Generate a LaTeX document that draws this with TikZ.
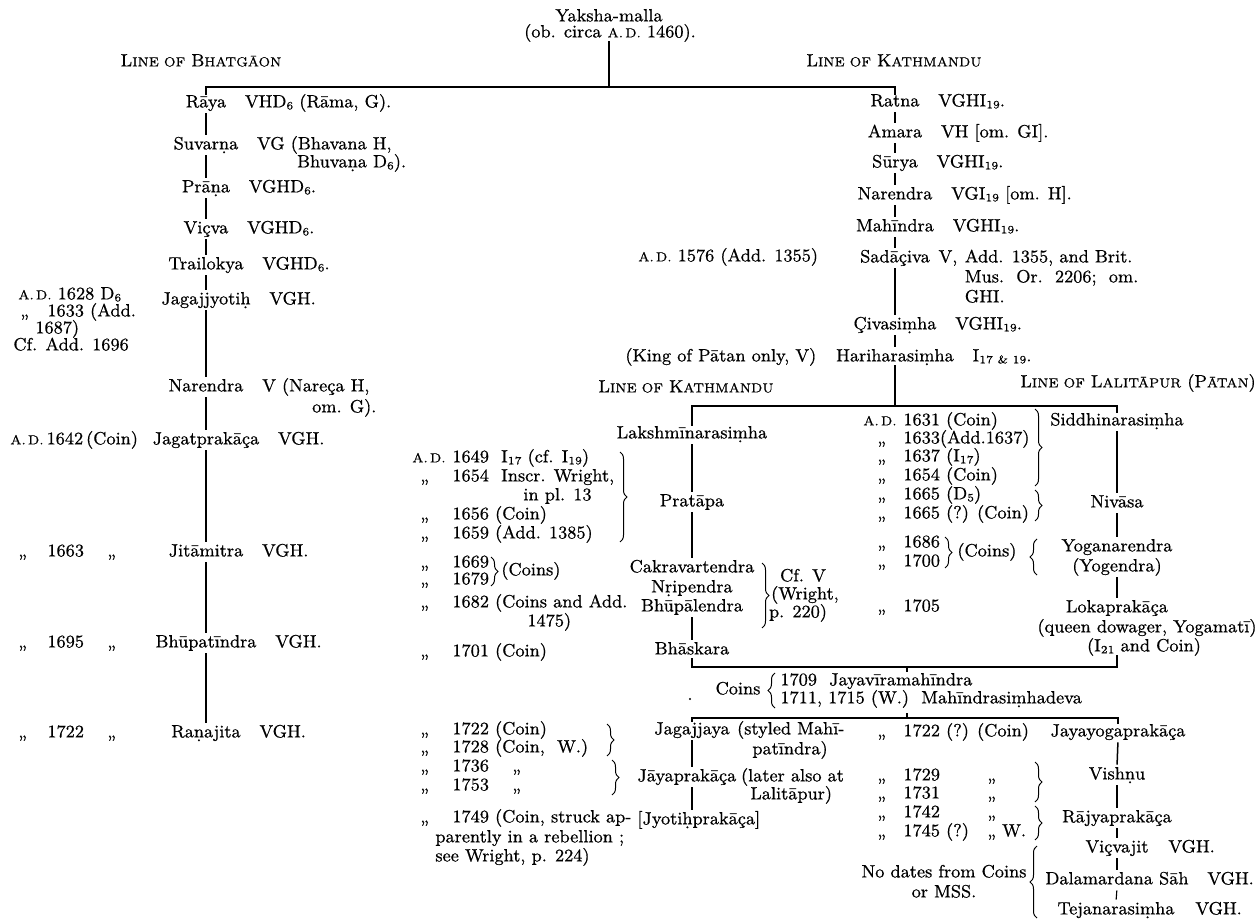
\documentclass[tikz,border=0pt]{standalone}
\usepackage{fontspec}
\setmainfont{Latin Modern Roman}[UprightFeatures={FakeBold=0.6}]
\usetikzlibrary{decorations.pathreplacing,calc}
\newcommand\db[1]{\oalign{#1\crcr\hidewidth.\hidewidth}}
\newcommand\smc[1]{{\fontsize{6.6}{7}\selectfont #1}}
\newcommand\lsub[1]{\raisebox{-0.25ex}{\fontsize{5.6}{6}\selectfont #1}}
\newcommand\dto{,,}
\begin{document}
\begin{tikzpicture}[x=0.5pt,y=-0.5pt,font=\fontsize{8.9}{9.5}\selectfont,
  txt/.style={inner sep=0pt,text height=6.2pt,text depth=1.8pt},
  nm/.style={txt},
  ann/.style={txt,anchor=west},
  ln/.style={line width=0.55pt},
  lnb/.style={line width=0.75pt},
  seg/.style={ln,shorten <=1pt,shorten >=1pt},
  segb/.style={lnb,shorten <=1pt,shorten >=1pt},
  rb/.style={decorate,decoration={brace,amplitude=3.5pt},line width=0.5pt}]
\useasboundingbox (0,0) rectangle (1260,920);
\fill[white] (0,0) rectangle (1260,920);

% ---------- top ----------
\node[nm] (yak) at (609,17) {Yaksha-malla};
\node[nm] (ob) at (610,33) {(ob. circa \smc{A.\,D.} 1460).};
\node[nm] (lb) at (201,62) {L\smc{INE OF} B\smc{HATGĀON}};
\node[nm] (lk) at (894,62) {L\smc{INE OF} K\smc{ATHMANDU}};
\coordinate (hY) at (609,87);

% ---------- line of Bhatgaon ----------
\node[nm] (raya) at (206,103) {Rāya};
\node[ann] at ([xshift=9pt]raya.east) {VHD\lsub{6} (Rāma, G).};
\node[nm] (suv) at (206,145) {Suvar\db{n}a};
\node[ann] (suvA) at ([xshift=9pt]suv.east) {VG (Bhavana H,};
\node[ann] at ([xshift=20pt]suvA.west |- 0,163) {Bhuva\db{n}a D\lsub{6}).};
\node[nm] (prana) at (206,188) {Prā\db{n}a};
\node[ann] at ([xshift=9pt]prana.east) {VGHD\lsub{6}.};
\node[nm] (vicva) at (206,229) {Viçva};
\node[ann] at ([xshift=9pt]vicva.east) {VGHD\lsub{6}.};
\node[nm] (trai) at (206,265) {Trailokya};
\node[ann] at ([xshift=9pt]trai.east) {VGHD\lsub{6}.};
\node[nm] (jagaj) at (206,300) {Jagajjyoti\db{h}};
\node[ann] at ([xshift=9pt]jagaj.east) {VGH.};
\node[nm] (nar) at (206,387) {Narendra};
\node[ann] (narA) at ([xshift=9pt]nar.east) {V (Nareça H,};
\node[ann] at ([xshift=25pt]narA.west |- 0,408) {om. G).};
\node[nm] (jagat) at (206,440) {Jagatprakāça};
\node[ann] at ([xshift=9pt]jagat.east) {VGH.};
\node[nm] (jita) at (206,552) {Jitāmitra};
\node[ann] at ([xshift=9pt]jita.east) {VGH.};
\node[nm] (bhupa) at (206,643) {Bhūpatīndra};
\node[ann] at ([xshift=9pt]bhupa.east) {VGH.};
\node[nm] (rana) at (206,733) {Ra\db{n}ajita};
\node[ann] at ([xshift=9pt]rana.east) {VGH.};

\draw[ln] (ob.south -| hY) -- (hY);
\draw[lnb] (raya.north) |- (hY);
\draw[ln] (hY) -| (895,95);
\foreach \a/\b in {raya/suv,suv/prana,prana/vicva,vicva/trai,trai/jagaj,jagaj/nar,nar/jagat,jagat/jita,jita/bhupa,bhupa/rana}
  \draw[segb] (\a.south) -- (\b.north);

% far-left dates
\node[ann] at (18,295) {\smc{A.\,D.} 1628 D\lsub{6}};
\node[ann] at (20,312) {\dto};
\node[ann] at (47,312) {1633 (Add.};
\node[ann] at (35,329) {1687)};
\node[ann] at (13,346) {Cf. Add. 1696};
\node[ann] at (10,440) {\smc{A.\,D.}\,1642\,(Coin)};
\foreach \y/\d in {552/1663,643/1695,733/1722}{
  \node[ann] at (18,\y) {\dto};
  \node[ann] at (47,\y) {\d};
  \node[ann] at (107,\y) {\dto};
}

% ---------- line of Kathmandu (upper) ----------
\node[nm] (ratna) at (895,102) {Ratna};
\node[ann] at ([xshift=9pt]ratna.east) {VGHI\lsub{19}.};
\node[nm] (amara) at (895,133) {Amara};
\node[ann] at ([xshift=9pt]amara.east) {VH [om. GI].};
\node[nm] (surya) at (895,163) {Sūrya};
\node[ann] at ([xshift=9pt]surya.east) {VGHI\lsub{19}.};
\node[nm] (narK) at (895,195) {Narendra};
\node[ann] at ([xshift=9pt]narK.east) {VGI\lsub{19} [om. H].};
\node[nm] (mahi) at (895,227) {Mahīndra};
\node[ann] at ([xshift=9pt]mahi.east) {VGHI\lsub{19}.};
\node[nm] (sada) at (895,258) {Sadāçiva};
\node[ann] (sadaV) at ([xshift=4pt]sada.east) {V,};
\node[ann] (sadaA) at ([xshift=3.3pt]sadaV.east) {Add. 1355, and Brit.};
\node[ann] at (sadaA.west |- 0,278) {Mus.\ \ Or.\ \ 2206;\ \ om.};
\node[ann] at (sadaA.west |- 0,298) {GHI.};
\node[nm] (civa) at (895,325) {Çivasi\db{m}ha};
\node[ann] at ([xshift=9pt]civa.east) {VGHI\lsub{19}.};
\node[nm] (hari) at (895,357) {Hariharasi\db{m}ha};
\node[ann] at ([xshift=9pt]hari.east) {I\lsub{17 \& 19}.};
\node[ann] at (638,257) {\smc{A.\,D.} 1576 (Add. 1355)};
\node[ann] at (625,357) {(King of Pātan only, V)};
\foreach \a/\b in {ratna/amara,amara/surya,surya/narK,narK/mahi,mahi/sada,sada/civa,civa/hari}
  \draw[seg] (\a.south) -- (\b.north);

% ---------- lower Kathmandu and Lalitapur ----------
\node[nm] (lk2) at (686,388) {L\smc{INE OF} K\smc{ATHMANDU}};
\node[ann] (ll) at (1020,383) {L\smc{INE OF} L\smc{ALITĀPUR} (P\smc{ĀTAN})};
\coordinate (hH) at (895,406);
\draw[ln] (hari.south) -- (hH);

\node[nm] (laksh) at (692,434) {Lakshmīnarasi\db{m}ha};
\node[nm] (prat) at (692,502) {Pratāpa};
\node[nm] (cakra) at (692,568) {Cakravartendra};
\node[nm] (nrip) at (692,588) {N\db{r}ipendra};
\node[nm] (bhupal) at (692,607) {Bhūpālendra};
\node[nm] (bhask) at (692,650) {Bhāskara};
\draw[rb] (762,563) -- (762,628);
\node[nm] at (803,577) {Cf. V};
\node[nm] at (805,595) {(Wright,};
\node[nm] at (798,613) {p. 220)};

\node[nm] (siddhi) at (1117,421) {Siddhinarasi\db{m}ha};
\node[nm] (niv) at (1117,503) {Nivāsa};
\node[nm] (yoga) at (1117,547) {Yoganarendra};
\node[nm] (yoge) at (1117,567) {(Yogendra)};
\node[nm] (loka) at (1117,608) {Lokaprakāça};
\node[nm] (queen) at (1147,628) {(queen dowager, Yogamatī)};
\node[nm] (ic) at (1144,647) {(I\lsub{21} and Coin)};

\draw[lnb] (laksh.north) |- (hH) -| (siddhi.north);
\foreach \a/\b in {laksh/prat,prat/cakra,bhupal/bhask,siddhi/niv,niv/yoga,yoge/loka}
  \draw[segb] (\a.south) -- (\b.north);

% dates of the lower Kathmandu line
\node[ann] at (412,458) {\smc{A.\,D.}};
\node[ann] at (452,458) {1649\ \ I\lsub{17} (cf. I\lsub{19})};
\foreach \y in {477,515,534,563,580,603,652,730,748,767,786,818}
  \node[ann] at (420,\y) {\dto};
\node[ann] at (452,477) {1654\ \ Inscr. Wright,};
\node[ann] at (523,496) {in pl. 13};
\node[ann] at (452,515) {1656 (Coin)};
\node[ann] at (452,534) {1659 (Add. 1385)};
\draw[rb] (620,452) -- (620,542);
\node[ann] at (452,563) {1669};
\node[ann] at (452,580) {1679};
\draw[rb] (491,557) -- (491,586);
\node[ann] at (501,571) {(Coins)};
\node[ann] at (452,603) {1682 (Coins and Add.};
\node[ann] at (527,622) {1475)};
\node[ann] at (452,652) {1701 (Coin)};
\node[ann] at (452,730) {1722 (Coin)};
\node[ann] at (452,748) {1728 (Coin,\ \ W.)};
\draw[rb] (607,724) -- (607,756);
\node[ann] at (452,767) {1736};
\node[ann] at (512,767) {\dto};
\node[ann] at (452,786) {1753};
\node[ann] at (512,786) {\dto};
\draw[rb] (612,760) -- (612,795);
\node[ann] at (452,818) {1749 (Coin, struck ap-};
\node[ann] at (435,838) {parently in a rebellion ;};
\node[ann] at (435,857) {see Wright, p. 224)};

% dates of the Lalitapur line
\node[ann] at (863,421) {\smc{A.\,D.}};
\node[ann] at (903,421) {1631 (Coin)};
\foreach \y in {439,457,476,495,514,543,562,607,732,776,794,813,832}
  \node[ann] at (877,\y) {\dto};
\node[ann] at (903,439) {1633(Add.1637)};
\node[ann] at (903,457) {1637 (I\lsub{17})};
\node[ann] at (903,476) {1654 (Coin)};
\node[ann] at (903,495) {1665 (D\lsub{5})};
\node[ann] at (903,514) {1665 (?) (Coin)};
\draw[rb] (1035,409) -- (1035,486);
\draw[rb] (1035,490) -- (1035,521);
\node[ann] at (903,543) {1686};
\node[ann] at (903,562) {1700};
\draw[rb] (945,537) -- (945,568);
\node[ann] at (957,552) {(Coins)};
\draw[rb] (1037,575) -- (1037,539);
\node[ann] at (903,607) {1705};

% ---------- join and coins ----------
\coordinate (jU) at (907,667);
\coordinate (jL) at (907,718);
\draw[ln] (bhask.south) |- (jU) -| (siddhi.center |- ic.south);
\draw[ln] (jU) -- ++(0,5);
\fill (690,699) circle (0.6pt);
\node[nm] (coins) at (738,690) {Coins};
\draw[rb] (775,708) -- (775,673);
\node[ann] at (780,681) {1709\ \ Jayavīramahīndra};
\node[ann] at (780,699) {1711, 1715 (W.)\ \ Mahīndrasi\db{m}hadeva};

\node[nm] (jagajj) at (692,730) {Jagajjaya};
\node[ann] at ([xshift=3.3pt]jagajj.east) {(styled Mahī-};
\node[ann] at (752,750) {patīndra)};
\node[ann] (jayap) at (637,777) {Jāyaprakāça};
\node[ann] at ([xshift=2pt]jayap.east) {(later also at};
\node[ann] at (750,795) {Lalitāpur)};
\node[ann] (jyoti) at (637,820) {[Jyoti\db{h}prakāça]};

\node[nm] (jayay) at (1118,732) {Jayayogaprakāça};
\node[nm] (vish) at (1117,775) {Vish\db{n}u};
\node[nm] (rajya) at (1117,818) {Rājyaprakāça};
\node[nm] (vicv) at (1117,848) {Viçvajit};
\node[ann] at (1168,848) {VGH.};
\node[nm] (dala) at (1117,880) {Dalamardana Sāh};
\node[ann] at (1207,880) {VGH.};
\node[nm] (teja) at (1116,910) {Tejanarasi\db{m}ha};
\node[ann] at (1195,910) {VGH.};

\draw[ln] (jagajj.north) |- (jL) -| (jayay.north);
\draw[ln] (jL) -- ++(0,-5);
\draw[segb] (jagajj.south) -- (jagajj.south |- jayap.north);
\draw[segb] (jagajj.south |- jayap.south) -- (jagajj.south |- jyoti.north);
\foreach \a/\b in {jayay/vish,vish/rajya}
  \draw[segb] (\a.south) -- (\b.north);
\foreach \a/\b in {rajya/vicv,vicv/dala,dala/teja}
  \draw[seg] (\a.south) -- (\b.north);

\node[ann] at (903,732) {1722 (?) (Coin)};
\node[ann] at (903,776) {1729};
\node[ann] at (903,794) {1731};
\node[ann] at (903,813) {1742};
\node[ann] at (903,832) {1745 (?)};
\foreach \y in {776,794,813} \node[ann] at (987,\y) {\dto};
\node[ann] at (987,832) {\dto\ W.};
\draw[rb] (1035,762) -- (1035,802);
\draw[rb] (1035,806) -- (1035,840);
\node[nm] at (944,873) {No dates from Coins};
\node[nm] at (944,893) {or MSS.};
\draw[rb] (1037,918) -- (1037,846);
\end{tikzpicture}
\end{document}
